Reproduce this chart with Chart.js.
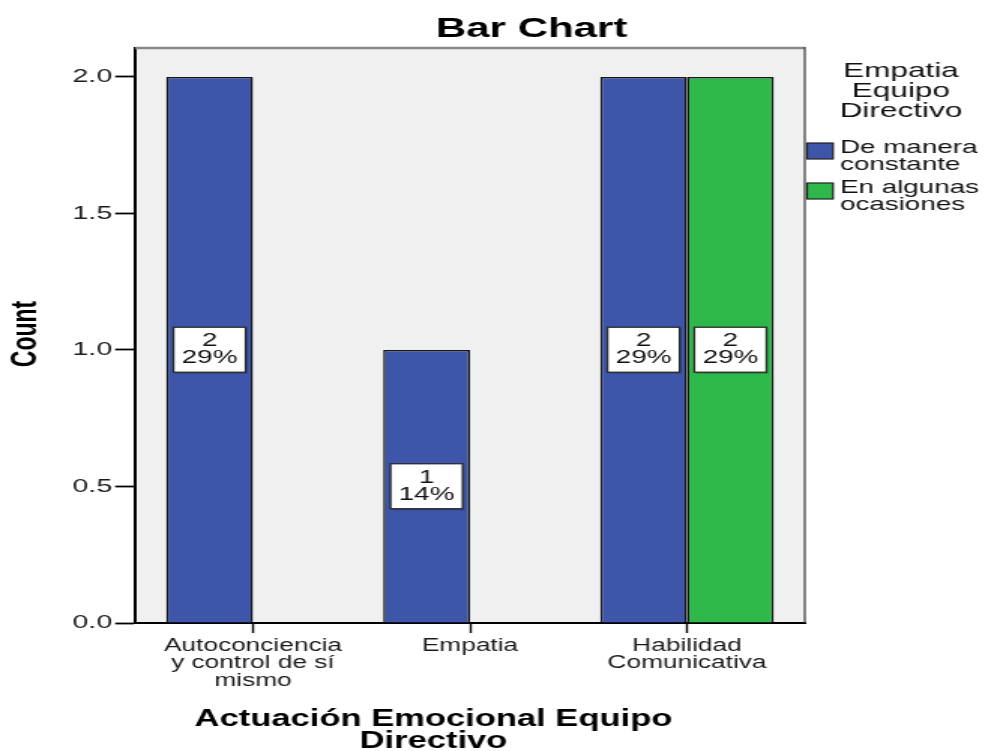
<!DOCTYPE html>
<html>
<head>
<meta charset="utf-8">
<script src="https://cdn.jsdelivr.net/npm/chart.js@4.4.1/dist/chart.umd.min.js"></script>
<style>
  html, body { margin: 0; padding: 0; background: #fff; overflow: hidden; }
  /* the chart is laid out narrow and widened horizontally, giving the wide SPSS-style lettering */
  #wrap { position: absolute; left: 0; top: 0; width: 656px; height: 751px;
          transform: scaleX(1.5015); transform-origin: 0 0; }
</style>
</head>
<body>
<div id="wrap"><canvas id="chart"></canvas></div>
<script>
// Categories of the x axis (one array of text lines per category)
const categories = [
  ['Autoconciencia', 'y control de sí', 'mismo'],
  ['Empatia'],
  ['Habilidad', 'Comunicativa']
];
// Series
const seriesNames = ['De manera constante', 'En algunas ocasiones'];
const legendLines = [['De manera', 'constante'], ['En algunas', 'ocasiones']];
const deManeraConstante = [2, 1, 2];
const enAlgunasOcasiones = [0, 0, 2];
// Axis ticks and range
const yTicks = [0, 0.5, 1.0, 1.5, 2.0];
const yMax = 2.106;
const xPad = 0.543;

const chartTitle = 'Bar Chart';
const xTitle = ['Actuación Emocional Equipo', 'Directivo'];
const yTitle = 'Count';
const legendTitle = ['Empatia', 'Equipo', 'Directivo'];

const colors = ['#3D56AA', '#2EB84A'];
const seriesValues = [deManeraConstante, enAlgunasOcasiones];
const total = seriesValues.flat().reduce((a, b) => a + b, 0);
const FONT = "'Liberation Sans', Arial, sans-serif";

const decor = {
  id: 'decor',
  beforeDraw(chart) {
    const { ctx, chartArea: a } = chart;
    ctx.save();
    ctx.fillStyle = '#F0F0F0';
    ctx.fillRect(a.left, a.top, a.right - a.left, a.bottom - a.top);
    ctx.restore();
  },
  afterDatasetsDraw(chart) {
    // count / percent boxes in the middle of every bar
    const ctx = chart.ctx;
    ctx.save();
    ctx.font = `18.5px ${FONT}`;
    ctx.textAlign = 'center';
    ctx.textBaseline = 'middle';
    chart.data.datasets.forEach((ds, di) => {
      const meta = chart.getDatasetMeta(di);
      meta.data.forEach((bar, i) => {
        const v = ds.data[i].y;
        if (!v) return;
        const cx = bar.x, cy = (bar.y + bar.base) / 2;
        const lines = [String(v), Math.round(v / total * 100) + '%'];
        const w = 48, h = 45;
        ctx.fillStyle = 'rgba(0,0,0,0.25)';
        ctx.fillRect(cx - w / 2 + 1, cy - h / 2 + 1.5, w, h);
        ctx.fillStyle = '#fff';
        ctx.fillRect(cx - w / 2, cy - h / 2, w, h);
        ctx.strokeStyle = '#2a2a2a';
        ctx.lineWidth = 1.3;
        ctx.strokeRect(cx - w / 2, cy - h / 2, w, h);
        ctx.fillStyle = '#111';
        ctx.fillText(lines[0], cx, cy - 8.5);
        ctx.fillText(lines[1], cx, cy + 8.5);
      });
    });
    ctx.restore();
  },
  afterDraw(chart) {
    const { ctx, chartArea: a } = chart;
    ctx.save();
    // top and right frame of the plot
    ctx.strokeStyle = '#888';
    ctx.lineWidth = 2.5;
    ctx.beginPath();
    ctx.moveTo(a.left, a.top);
    ctx.lineTo(a.right, a.top);
    ctx.stroke();
    ctx.strokeStyle = '#444';
    ctx.lineWidth = 1.3;
    ctx.beginPath();
    ctx.moveTo(a.right, a.top - 1);
    ctx.lineTo(a.right, a.bottom);
    ctx.stroke();

    ctx.fillStyle = '#000';
    ctx.textAlign = 'center';
    ctx.textBaseline = 'alphabetic';
    // chart title
    ctx.font = `bold 28px ${FONT}`;
    ctx.fillText(chartTitle, 354, 36.5);
    // x axis title
    ctx.font = `bold 23px ${FONT}`;
    ctx.fillText(xTitle[0], 288.7, 726);
    ctx.fillText(xTitle[1], 288.7, 747.5);
    // y axis title
    ctx.save();
    ctx.translate(18, 334);
    ctx.rotate(-Math.PI / 2);
    ctx.textBaseline = 'middle';
    ctx.font = `bold 23px ${FONT}`;
    ctx.fillText(yTitle, 0, 0);
    ctx.restore();

    // legend
    ctx.font = `21px ${FONT}`;
    ctx.fillStyle = '#111';
    legendTitle.forEach((t, i) => ctx.fillText(t, 600, 77 + i * 20));
    ctx.textAlign = 'left';
    ctx.font = `18.5px ${FONT}`;
    legendLines.forEach((lines, i) => {
      const sy = 143 + i * 40;
      ctx.fillStyle = colors[i];
      ctx.fillRect(a.right + 1.5, sy, 17.3, 16);
      ctx.strokeStyle = '#222';
      ctx.lineWidth = 1.2;
      ctx.strokeRect(a.right + 1.5, sy, 17.3, 16);
      ctx.fillStyle = '#111';
      lines.forEach((l, j) => ctx.fillText(l, 559.4, 153 + i * 40 + j * 17));
    });
    ctx.restore();
  }
};

new Chart(document.getElementById('chart'), {
  type: 'bar',
  data: {
    datasets: seriesNames.map((name, si) => ({
      label: name,
      data: seriesValues[si].map((v, i) => ({ x: i, y: v })),
      backgroundColor: colors[si],
      borderColor: '#161616',
      borderWidth: 1.5,
      categoryPercentage: 0.8,
      barPercentage: 1.0
    }))
  },
  options: {
    responsive: true,
    maintainAspectRatio: false,
    animation: false,
    events: [],
    layout: { padding: { left: 0, right: 120, top: 48, bottom: 0 } },
    plugins: { legend: { display: false }, title: { display: false }, tooltip: { enabled: false } },
    scales: {
      x: {
        type: 'linear',
        offset: false,
        min: -xPad,
        max: categories.length - 1 + xPad,
        z: 1,
        afterBuildTicks: s => { s.ticks = categories.map((_, i) => ({ value: i })); },
        afterFit: s => { s.height = 128; },
        ticks: {
          callback: v => categories[v],
          font: { family: FONT, size: 17.5, lineHeight: 1.0 },
          color: '#1a1a1a',
          padding: 4,
          maxRotation: 0,
          autoSkip: false
        },
        grid: { offset: false, drawOnChartArea: false, tickLength: 10, tickColor: '#000', tickWidth: 1.4 },
        border: { color: '#000', width: 2 }
      },
      y: {
        min: 0,
        max: yMax,
        z: 1,
        afterBuildTicks: s => { s.ticks = yTicks.map(v => ({ value: v })); },
        afterFit: s => { s.width = 90; },
        ticks: {
          callback: v => Number(v).toFixed(1),
          font: { family: FONT, size: 19 },
          color: '#1a1a1a',
          padding: 2
        },
        grid: { drawOnChartArea: false, tickLength: 13.3, tickColor: '#000', tickWidth: 1.8 },
        border: { color: '#000', width: 2 }
      }
    }
  },
  plugins: [decor]
});
</script>
</body>
</html>
